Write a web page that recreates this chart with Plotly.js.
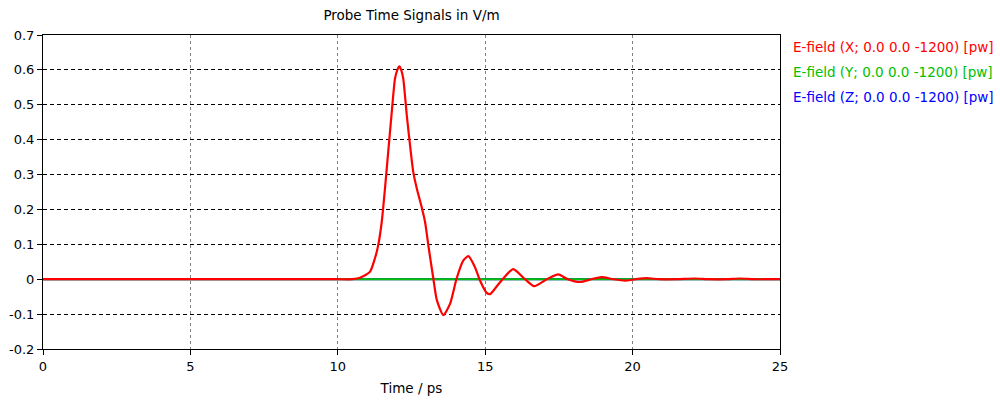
<!DOCTYPE html>
<html>
<head>
<meta charset="utf-8">
<script src="https://cdn.plot.ly/plotly-3.0.1.min.js"></script>
<style>html,body{margin:0;padding:0;background:#fff;}#chart{width:1000px;height:403px;}</style>
</head>
<body>
<div id="chart"></div>
<script>
// Time in ps
const timeX = [0, 2, 4, 6, 8, 9, 10, 10.5, 10.75, 11.09, 11.26, 11.37, 11.49, 11.60, 11.71, 11.83, 11.94, 12.02, 12.09, 12.15, 12.22, 12.34, 12.45, 12.56, 12.68, 12.85, 12.96, 13.08, 13.24, 13.36, 13.58, 13.81, 14.03, 14.26, 14.43, 14.65, 14.82, 15.05, 15.16, 15.35, 15.59, 15.95, 16.35, 16.66, 17.09, 17.48, 17.8, 18.22, 18.6, 18.95, 19.35, 19.74, 20.1, 20.48, 20.9, 21.5, 22.1, 22.6, 23.2, 23.65, 24.1, 24.5, 25];
const eX = [0, 0, 0, 0, 0, 0, 0, 0, 0.004, 0.021, 0.06, 0.097, 0.164, 0.26, 0.365, 0.479, 0.575, 0.600, 0.610, 0.600, 0.575, 0.47, 0.384, 0.307, 0.26, 0.205, 0.164, 0.092, 0.002, -0.06, -0.103, -0.07, 0.002, 0.054, 0.066, 0.035, -0.003, -0.039, -0.043, -0.025, 0, 0.029, 0, -0.02, 0, 0.014, 0, -0.008, 0, 0.006, 0, -0.004, 0, 0.003, 0, 0, 0.002, 0, 0, 0.002, 0, 0, 0];
const timeYZ = [0, 25];
const eY = [0, 0];
const eZ = [0, 0];
const seriesNames = ["E-field (X; 0.0 0.0 -1200) [pw]", "E-field (Y; 0.0 0.0 -1200) [pw]", "E-field (Z; 0.0 0.0 -1200) [pw]"];
const seriesColors = ["#ff0000", "#00c000", "#0000ff"];
const yTicks = [-0.2, -0.1, 0, 0.1, 0.2, 0.3, 0.4, 0.5, 0.6, 0.7];
const yTickText = ["-0.2", "-0.1", "0", "0.1", "0.2", "0.3", "0.4", "0.5", "0.6", "0.7"];
const xTicks = [0, 5, 10, 15, 20, 25];

const FONT = "Tahoma, 'DejaVu Sans', sans-serif";

const traces = [
  {x: timeYZ, y: eZ, name: seriesNames[2], mode: 'lines', line: {color: seriesColors[2], width: 2}},
  {x: timeYZ, y: eY, name: seriesNames[1], mode: 'lines', line: {color: seriesColors[1], width: 2}},
  {x: timeX, y: eX, name: seriesNames[0], mode: 'lines', line: {color: seriesColors[0], width: 2.2, shape: 'spline', smoothing: 0.6}}
];

const annotations = seriesNames.map((n, i) => ({
  text: n, xref: 'paper', yref: 'paper', x: 1.015, y: 0.961 - i * 0.0795,
  xanchor: 'left', yanchor: 'middle', showarrow: false,
  font: {family: FONT, size: 13.5, color: seriesColors[i]}
}));

const layout = {
  width: 1000, height: 403,
  margin: {l: 43, r: 220, t: 35, b: 54},
  paper_bgcolor: '#fff', plot_bgcolor: '#fff',
  showlegend: false,
  font: {family: FONT, size: 13, color: '#000'},
  title: {text: 'Probe Time Signals in V/m', x: 0.4115, xanchor: 'center', y: 0.962, yanchor: 'middle', font: {family: FONT, size: 13.5, color: '#000'}},
  xaxis: {
    range: [0, 25], tickvals: xTicks, ticks: 'outside', ticklen: 5, tickcolor: '#000',
    showline: true, linecolor: '#000', linewidth: 1, mirror: true,
    showgrid: true, gridcolor: '#808080', gridwidth: 1.3, griddash: '3px,3px',
    zeroline: false, tickfont: {family: FONT, size: 13},
    title: {text: 'Time / ps', font: {family: FONT, size: 13.5}, standoff: 10}
  },
  yaxis: {
    range: [-0.2, 0.7], tickvals: yTicks, ticktext: yTickText, ticks: 'outside', ticklen: 5, tickcolor: '#000',
    showline: true, linecolor: '#000', linewidth: 1, mirror: true,
    showgrid: true, gridcolor: '#000', gridwidth: 1, griddash: '4px,3px',
    zeroline: false, tickfont: {family: FONT, size: 13}
  },
  annotations: annotations
};

Plotly.newPlot('chart', traces, layout, {displayModeBar: false, staticPlot: true});
</script>
</body>
</html>
